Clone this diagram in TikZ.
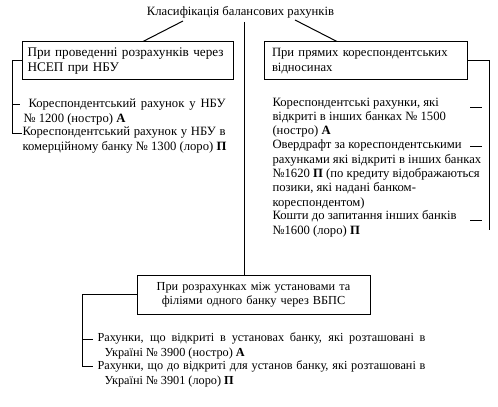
\documentclass[tikz,border=0pt]{standalone}
\usepackage{fontspec}
\setmainfont{Liberation Serif}
\usetikzlibrary{positioning}

\begin{document}
\begin{tikzpicture}[x=0.75pt, y=-0.75pt, line width=0.75pt,
  every node/.style={inner sep=0pt, font=\fontsize{9.5}{10.75}\selectfont},
  rahbox/.style={draw, line width=0.75pt, minimum height=28.5pt, inner xsep=6pt},
  item/.style={anchor=base west, align=left}
]
  \useasboundingbox (0,0) rectangle (498,406);

  % title and the three groups
  \node[anchor=base] (klas) at (240.5,16) {Класифікація балансових рахунків};
  \node[rahbox, text width=150pt, inner xsep=4.125pt, align=left,
        font=\fontsize{9.9}{11.25}\selectfont] (nbu) at (127.5,61)
    {При проведенні розрахунків через\\НСЕП при НБУ};
  \node[rahbox, text width=140.25pt, align=left,
        font=\fontsize{9.5}{11.25}\selectfont] (corr) at (365.5,61)
    {При прямих кореспондентських\\відносинах};
  \node[rahbox, text width=162.75pt, align=center, minimum height=29.25pt,
        font=\fontsize{9.2}{10.75}\selectfont] (vpbs) at (253.5,294.5)
    {При розрахунках між установами та\\філіями одного банку через ВБПС};

  % accounts (base = last line)
  \node[item] (nbu1) at (23,122.3)
    {\hspace*{3.75pt}\makebox[147.75pt][s]{Кореспондентський рахунок у НБУ}\\№ 1200 (ностро) \textbf{А}};
  \node[item] (nbu2) at (22,150.3)
    {\makebox[152.25pt][s]{Кореспондентський рахунок у НБУ в}\\комерційному банку № 1300 (лоро) \textbf{П}};

  \node[item] (corr1) at (272,134.7)
    {Кореспондентські рахунки, які\\відкриті в інших банках № 1500\\(ностро) \textbf{А}};
  \node[item] (corr2) at (272,206.3)
    {Овердрафт за кореспондентськими\\рахунками які відкриті в інших банках\\№1620 \textbf{П} (по кредиту відображаються\\позики, які надані банком-\\кореспондентом)};
  \node[item] (corr3) at (272,234.3)
    {Кошти до запитання інших банків\\№1600 (лоро) \textbf{П}};

  \node[item, font=\fontsize{9.2}{10.75}\selectfont] (vpbs1) at (97,356.3)
    {\makebox[246pt][s]{Рахунки, що відкриті в установах банку, які розташовані в}\\\hspace*{5.25pt}Україні № 3900 (ностро) \textbf{А}};
  \node[item, font=\fontsize{9.2}{10.75}\selectfont] (vpbs2) at (97,384.3)
    {\makebox[246pt][s]{Рахунки, що до відкриті для установ банку, які розташовані в}\\\hspace*{5.25pt}Україні № 3901 (лоро) \textbf{П}};

  % connectors
  \coordinate (klas-l) at (183,21);
  \coordinate (klas-r) at (295,20);
  \coordinate (klas-c) at (244,22);
  \draw (klas-l) -- ([xshift=11.6pt]nbu.north);
  \draw (klas-r) -- ([xshift=-21.4pt]corr.north);
  \draw (klas-c) -- (klas-c |- vpbs.north);

  \coordinate (nbu-t) at (12,105);
  \coordinate (nbu-b) at (12,133);
  \draw (nbu.west) -| (nbu-b) -- (nbu-b -| nbu.west);
  \draw (nbu-t) -- ++(8,0);

  \coordinate (corr-b) at (489,230);
  \draw (corr.east) -| (corr-b);
  \foreach \y in {107,146,220}
    \draw (470,\y) -- ++(12,0);

  \coordinate (vpbs-t) at (82,339);
  \coordinate (vpbs-b) at (82,366);
  \draw (vpbs.west) -| (vpbs-b) -- ++(11,0);
  \draw (vpbs-t) -- ++(11,0);
\end{tikzpicture}
\end{document}
